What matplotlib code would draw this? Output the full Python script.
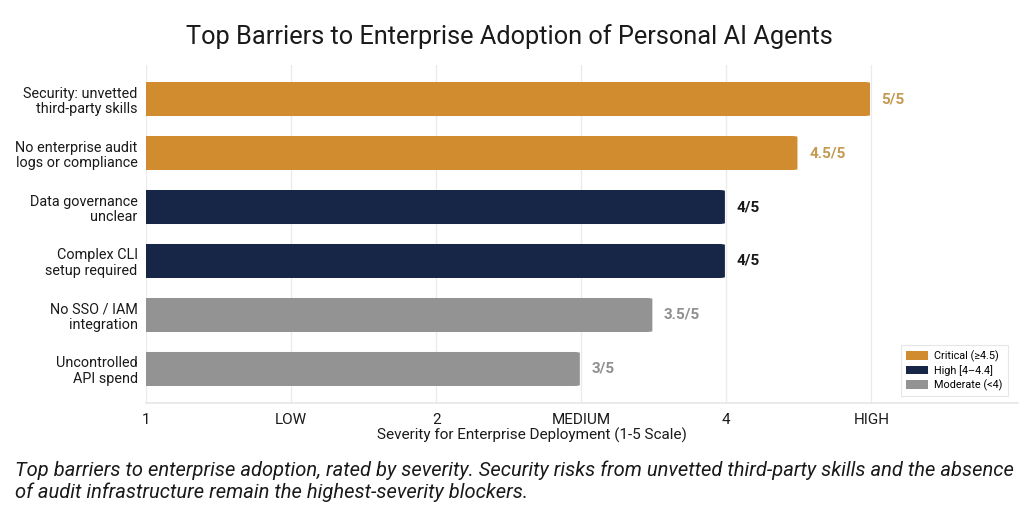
import matplotlib
matplotlib.use("Agg")
import matplotlib.pyplot as plt
from matplotlib.patches import FancyBboxPatch, Patch

plt.rcParams['font.family'] = ['Roboto', 'DejaVu Sans']

categories = ["Security: unvetted\nthird-party skills",
              "No enterprise audit\nlogs or compliance",
              "Data governance\nunclear",
              "Complex CLI\nsetup required",
              "No SSO / IAM\nintegration",
              "Uncontrolled\nAPI spend"]
values = [5, 4.5, 4, 4, 3.5, 3]
value_labels = ["5/5", "4.5/5", "4/5", "4/5", "3.5/5", "3/5"]
tick_vals = [0, 1, 2, 3, 4, 5]
tick_labels = ["1", "LOW", "2", "MEDIUM", "4", "HIGH"]
legend_labels = ["Critical (\u22654.5)", "High [4\u20134.4]", "Moderate (<4)"]

C_CRIT = "#D08C2E"
C_HIGH = "#172547"
C_MOD = "#939393"
T_CRIT = "#C49A52"
T_HIGH = "#1a1a1a"
T_MOD = "#8f8f8f"

def colors_for(v):
    if v >= 4.5:
        return C_CRIT, T_CRIT
    if v >= 4:
        return C_HIGH, T_HIGH
    return C_MOD, T_MOD

W, H = 1024, 511
fig = plt.figure(figsize=(W / 100, H / 100), dpi=100)
ax = fig.add_axes([146 / W, 1 - 403 / H, (1018 - 146) / W, (403 - 65) / H])
ax.set_xlim(0, 6.01)
ax.set_ylim(5.63, -0.63)

bar_h = 0.63
px_x = (1018 - 146) / 6.01
px_y = (403 - 65) / 6.26
aspect = px_x / px_y
for i, (v, lab) in enumerate(zip(values, value_labels)):
    bc, tc = colors_for(v)
    p = FancyBboxPatch((-0.2, i - bar_h / 2), v + 0.2 - 0.01, bar_h,
                       boxstyle="round,pad=0,rounding_size=0.045",
                       mutation_aspect=1 / aspect,
                       facecolor=bc, edgecolor="none", zorder=3)
    ax.add_patch(p)
    ax.text(v + 0.07, i, lab, va="center", ha="left", fontsize=11,
            fontweight="bold", color=tc, zorder=4)

ax.set_yticks(range(len(categories)))
ax.set_yticklabels(categories, fontsize=10.4, color="#1a1a1a", linespacing=1.12)
ax.set_xticks(tick_vals)
ax.set_xticklabels(tick_labels, fontsize=11, color="#1a1a1a")
ax.tick_params(axis="both", length=0)
ax.tick_params(axis="y", pad=6)
ax.tick_params(axis="x", pad=7)

ax.grid(axis="x", color="#ebebeb", linewidth=1, zorder=0)
ax.set_axisbelow(True)
for s in ["top", "right", "left"]:
    ax.spines[s].set_visible(False)
ax.spines["bottom"].set_color("#e6e6e6")
ax.spines["bottom"].set_linewidth(1.2)

ax.set_xlabel("Severity for Enterprise Deployment (1-5 Scale)", fontsize=11,
              color="#1a1a1a", labelpad=3)
ax.xaxis.set_label_coords((532 - 146) / (1018 - 146), -0.072)

handles = [Patch(facecolor=C_CRIT), Patch(facecolor=C_HIGH), Patch(facecolor=C_MOD)]
leg = ax.legend(handles, legend_labels, loc="lower right",
                bbox_to_anchor=((1013 - 146) / (1018 - 146), (403 - 401) / (403 - 65)),
                fontsize=7.8, frameon=True, fancybox=False, borderpad=0.45,
                handlelength=2.0, handleheight=0.8, labelspacing=0.3,
                handletextpad=0.6)
leg.get_frame().set_edgecolor("#e0e0e0")
leg.get_frame().set_linewidth(0.8)

fig.text(509 / W, 1 - 37 / H, "Top Barriers to Enterprise Adoption of Personal AI Agents",
         ha="center", va="center", fontsize=18.3, color="#1a1a1a")

fig.text(15 / W, 1 - 481 / H,
         "Top barriers to enterprise adoption, rated by severity. Security risks from unvetted third-party skills and the absence\n"
         "of audit infrastructure remain the highest-severity blockers.",
         ha="left", va="center", fontsize=14.5, style="italic", color="#1a1a1a",
         linespacing=1.14)

fig.savefig("out.png", dpi=100)
